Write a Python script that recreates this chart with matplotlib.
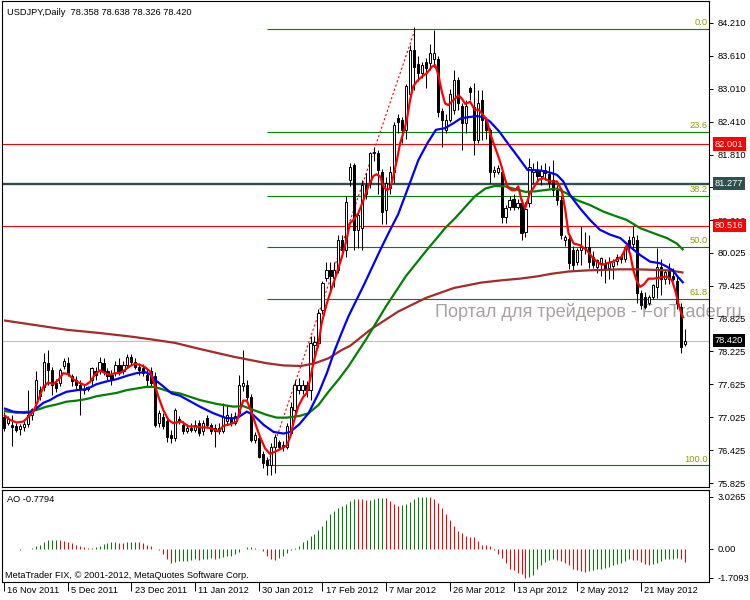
import matplotlib
matplotlib.use("Agg")
import matplotlib.pyplot as plt
import matplotlib.transforms as mtransforms

plt.rcParams['font.family'] = ['Liberation Sans', 'DejaVu Sans']

# ---- daily bars, index 0 = 16 Nov 2011
opens = [77.04, 76.93, 76.89, 76.87, 76.82, 76.85, 76.90, 77.07, 77.28, 77.52,
         77.58, 78.01, 77.89, 77.65, 77.65, 77.96, 78.02, 77.77, 77.71, 77.62,
         77.55, 77.55, 77.71, 77.86, 77.89, 78.01, 77.86, 77.80, 77.83, 77.98,
         77.86, 77.98, 78.13, 78.04, 77.95, 77.92, 77.80, 77.86, 77.77, 76.92,
         77.04, 76.95, 76.70, 76.64, 77.00, 76.89, 76.77, 76.83, 76.80, 76.92,
         76.77, 77.01, 76.89, 76.77, 76.84, 76.78, 76.95, 77.00, 76.92, 77.10,
         77.60, 77.62, 77.40, 76.61, 76.64, 76.36, 76.25, 76.16, 76.49, 76.58,
         76.52, 76.49, 76.74, 77.16, 77.52, 77.52, 77.62, 77.52, 78.34, 78.37,
         78.98, 79.56, 79.71, 79.56, 79.71, 80.26, 80.07, 81.35, 81.62, 80.44,
         80.47, 81.26, 81.30, 81.83, 81.83, 81.50, 80.80, 81.20, 81.50, 82.47,
         82.44, 82.26, 82.92, 83.71, 83.45, 83.30, 83.50, 83.47, 83.55, 83.55,
         82.60, 82.26, 82.44, 82.62, 83.17, 82.70, 82.38, 83.02, 82.68, 82.08,
         82.80, 82.44, 82.26, 81.50, 81.50, 81.50, 80.68, 80.86, 81.00, 80.86,
         80.92, 80.40, 80.93, 81.50, 81.53, 81.41, 81.53, 81.45, 81.35, 81.17,
         80.98, 80.25, 80.28, 80.07, 79.85, 80.07, 80.10, 80.13, 79.95, 79.77,
         79.83, 79.83, 79.75, 79.78, 79.87, 79.95, 79.90, 80.25, 80.19, 80.25,
         79.28, 79.22, 79.10, 79.22, 79.40, 79.77, 79.55, 79.70, 79.60, 79.50,
         79.04, 78.358]
highs = [77.13, 77.05, 77.07, 76.92, 76.90, 76.95, 77.52, 77.20, 77.86, 77.60,
         78.19, 78.25, 77.95, 77.72, 77.92, 78.10, 78.12, 77.82, 77.78, 77.70,
         77.62, 77.60, 77.95, 77.95, 78.13, 78.10, 77.92, 77.88, 78.05, 78.10,
         78.05, 78.18, 78.18, 78.10, 78.02, 78.00, 77.90, 77.95, 77.85, 77.15,
         77.10, 77.00, 76.80, 77.20, 77.05, 76.95, 76.90, 76.92, 76.97, 76.98,
         76.98, 77.06, 76.92, 76.90, 76.92, 77.28, 77.25, 77.10, 77.12, 77.80,
         78.25, 77.70, 77.45, 76.75, 76.70, 76.42, 76.30, 76.55, 76.72, 76.62,
         76.60, 76.92, 77.30, 77.70, 77.75, 77.70, 77.68, 78.50, 78.50, 79.00,
         79.50, 79.85, 79.85, 79.85, 80.35, 80.35, 81.05, 81.65, 81.66, 80.80,
         81.35, 81.47, 81.86, 81.95, 81.89, 81.55, 81.40, 81.60, 82.40, 82.55,
         82.50, 83.10, 83.80, 84.14, 83.60, 83.50, 83.56, 83.83, 84.08, 83.60,
         82.65, 82.55, 83.00, 83.35, 83.22, 82.75, 82.80, 83.05, 83.11, 82.99,
         82.99, 82.50, 82.30, 81.60, 81.62, 81.56, 80.90, 81.05, 81.10, 81.00,
         81.00, 80.95, 81.74, 81.65, 81.70, 81.62, 81.65, 81.60, 81.71, 81.25,
         81.05, 80.35, 80.35, 80.15, 80.10, 80.50, 80.40, 80.35, 80.05, 79.90,
         79.95, 79.90, 79.95, 79.90, 80.00, 80.00, 80.15, 80.32, 80.50, 80.35,
         79.35, 79.30, 79.25, 79.45, 80.10, 79.90, 79.70, 79.83, 79.75, 79.60,
         79.10, 78.638]
lows = [76.77, 76.88, 76.50, 76.76, 76.70, 76.78, 76.85, 76.98, 77.20, 77.35,
        77.50, 77.62, 77.43, 77.48, 77.60, 77.90, 77.78, 77.60, 77.55, 77.07,
        77.45, 77.50, 77.62, 77.70, 77.82, 77.80, 77.70, 77.62, 77.78, 77.80,
        77.82, 77.92, 77.98, 77.90, 77.80, 77.78, 77.58, 77.60, 76.85, 76.85,
        76.82, 76.58, 76.55, 76.60, 76.90, 76.72, 76.74, 76.76, 76.75, 76.68,
        76.70, 76.84, 76.72, 76.49, 76.72, 76.74, 76.90, 76.86, 76.88, 77.05,
        77.50, 77.35, 76.58, 76.55, 76.28, 76.10, 75.98, 75.97, 76.02, 76.45,
        76.42, 76.45, 76.70, 77.10, 77.45, 77.45, 77.40, 77.34, 78.10, 78.30,
        78.90, 79.50, 79.35, 79.40, 79.65, 79.95, 79.95, 81.23, 80.07, 80.10,
        80.07, 81.00, 81.20, 81.70, 81.10, 80.55, 80.55, 81.10, 81.30, 82.20,
        82.02, 82.10, 82.85, 82.99, 83.15, 83.20, 83.02, 83.35, 83.40, 82.50,
        81.95, 82.20, 82.40, 82.55, 82.62, 81.89, 82.20, 82.80, 81.80, 82.02,
        82.08, 82.10, 81.29, 81.40, 81.45, 80.56, 80.56, 80.80, 80.80, 80.82,
        80.25, 80.30, 80.85, 81.30, 81.35, 81.25, 81.35, 81.20, 81.05, 80.90,
        80.28, 80.15, 79.72, 79.70, 79.80, 79.80, 80.00, 79.75, 79.75, 79.65,
        79.60, 79.47, 79.55, 79.55, 79.80, 79.83, 79.85, 80.05, 80.10, 79.10,
        79.00, 79.00, 79.07, 79.18, 79.20, 79.25, 79.45, 79.45, 79.50, 79.00,
        78.19, 78.326]
closes = [76.83, 77.00, 76.85, 76.80, 76.86, 76.90, 77.07, 77.18, 77.70, 77.42,
          78.04, 77.89, 77.62, 77.56, 77.89, 78.06, 77.83, 77.68, 77.62, 77.55,
          77.52, 77.58, 77.92, 77.80, 78.04, 77.86, 77.77, 77.71, 77.98, 77.86,
          77.98, 78.13, 78.04, 77.95, 77.89, 77.83, 77.70, 77.65, 76.89, 77.10,
          76.86, 76.67, 76.64, 77.16, 76.95, 76.77, 76.83, 76.80, 76.89, 76.74,
          76.92, 76.89, 76.77, 76.84, 76.78, 77.04, 77.07, 76.92, 77.05, 77.62,
          77.65, 77.40, 76.61, 76.70, 76.31, 76.19, 76.16, 76.49, 76.67, 76.49,
          76.49, 76.86, 77.22, 77.62, 77.62, 77.62, 77.52, 78.37, 78.40, 78.92,
          79.47, 79.71, 79.59, 79.71, 80.26, 80.07, 80.95, 81.59, 80.44, 80.70,
          81.26, 81.10, 81.83, 81.86, 81.53, 80.77, 81.30, 81.50, 82.35, 82.41,
          82.26, 83.05, 83.71, 83.41, 83.30, 83.44, 83.38, 83.65, 83.65, 82.59,
          82.44, 82.44, 82.92, 83.17, 82.74, 82.38, 82.70, 82.95, 82.08, 82.74,
          82.44, 82.26, 81.50, 81.53, 81.56, 80.68, 80.83, 80.98, 80.86, 80.92,
          80.38, 80.82, 81.58, 81.53, 81.41, 81.53, 81.47, 81.30, 81.17, 80.98,
          80.35, 80.30, 79.83, 79.80, 80.07, 80.13, 80.13, 79.85, 79.80, 79.89,
          79.92, 79.72, 79.85, 79.87, 79.95, 79.90, 80.13, 80.13, 80.30, 79.28,
          79.07, 79.04, 79.22, 79.43, 79.77, 79.55, 79.67, 79.55, 79.55, 79.10,
          78.31, 78.420]

# ---- moving averages as drawn by the terminal (bar index, price)
red_ma = [(0, 77.07), (1.5, 76.98), (3.2, 76.93), (4.9, 76.95), (6.1, 77.03), (7.4, 77.13),
          (8.6, 77.34), (9.9, 77.58), (11.1, 77.66), (12.4, 77.63), (13.7, 77.71), (14.9, 77.83),
          (16.2, 77.81), (17.4, 77.72), (18.7, 77.66), (20.4, 77.61), (21.6, 77.67), (22.9, 77.81),
          (24.1, 77.88), (25.4, 77.83), (26.6, 77.80), (27.9, 77.83), (29.1, 77.83), (30.4, 77.89),
          (31.7, 77.96), (32.9, 78.00), (34.2, 77.98), (35.4, 77.94), (36.7, 77.86), (37.7, 77.65),
          (38.8, 77.40), (40, 77.16), (41.3, 76.98), (42.5, 76.92), (44.6, 76.95), (46.3, 76.86),
          (48, 76.86), (49.7, 76.84), (51.3, 76.84), (52.6, 76.81), (53.9, 76.77), (55.1, 76.87),
          (56.8, 76.90), (58.5, 76.95), (59.3, 77.16), (60.1, 77.33), (61, 77.33), (61.8, 77.19),
          (63.1, 76.92), (64.3, 76.67), (65.6, 76.46), (66.8, 76.36), (68.1, 76.40), (69.8, 76.46),
          (71.1, 76.52), (71.9, 76.67), (72.7, 76.92), (73.9, 77.22), (75.2, 77.40), (76, 77.46),
          (76.9, 77.71), (77.7, 78.01), (79, 78.37), (79.8, 78.74), (81.1, 79.10), (82.3, 79.37),
          (83.6, 79.65), (84.9, 79.95), (86.1, 80.27), (86.9, 80.56), (87.8, 80.62), (89, 80.74),
          (90.3, 80.98), (91.5, 81.23), (92.8, 81.42), (93.6, 81.45), (94.5, 81.41), (95.3, 81.23),
          (96.2, 81.16), (97, 81.20), (97.8, 81.41), (98.7, 81.71), (99.5, 82.01), (100.3, 82.20),
          (101.2, 82.44), (102, 82.80), (102.8, 83.05), (103.7, 83.14), (105, 83.23), (106.2, 83.29),
          (107.5, 83.41), (108.3, 83.44), (109.1, 83.26), (110, 82.95), (110.8, 82.74), (111.6, 82.71),
          (112.9, 82.80), (114.2, 82.89), (115, 82.83), (115.9, 82.73), (117.1, 82.77), (118.3, 82.62),
          (119.2, 82.63), (120, 82.56), (121.3, 82.44), (122.1, 82.20), (123, 82.01), (124.2, 81.77),
          (125, 81.59), (125.9, 81.35), (126.7, 81.20), (127.6, 81.16), (128.4, 81.16), (129.2, 81.23),
          (130, 80.98), (130.9, 80.83), (132.1, 81.10), (134.3, 81.35), (135.5, 81.38), (137.2, 81.32),
          (138.9, 81.32), (140.1, 81.16), (141, 80.80), (141.8, 80.38), (143.1, 80.19), (144.7, 80.16),
          (146.4, 80.07), (147.7, 79.95), (148.9, 79.86), (150.2, 79.80), (151.4, 79.83), (153.1, 79.86),
          (154.4, 79.92), (155.2, 79.95), (156.4, 80.15), (157.3, 80.00), (158.1, 79.70), (159, 79.50),
          (159.8, 79.40), (160.8, 79.45), (161.9, 79.55), (163.2, 79.55), (164.8, 79.57), (166.5, 79.59),
          (167.8, 79.52), (168.6, 79.34), (169.4, 79.10), (170, 78.95), (170.7, 78.83)]
blue_ma = [(0, 77.19), (2.3, 77.13), (4.9, 77.11), (6.5, 77.11), (8.2, 77.19), (9.9, 77.29),
           (11.6, 77.34), (13.2, 77.41), (15.7, 77.49), (18.3, 77.52), (20.8, 77.54), (23.3, 77.63),
           (25.8, 77.68), (28.3, 77.72), (30.8, 77.78), (33.3, 77.83), (35.4, 77.85), (36.7, 77.81),
           (37.9, 77.71), (40, 77.59), (42.1, 77.46), (44.2, 77.42), (49.2, 77.22), (52.6, 77.10),
           (55.9, 77.01), (58.5, 77.01), (61, 77.13), (62.6, 77.07), (65.2, 76.89), (67.7, 76.76),
           (70.2, 76.73), (71.9, 76.76), (74.2, 76.90), (76.5, 77.10), (79, 77.46), (81.1, 77.83),
           (83.1, 78.25), (84.8, 78.56), (86.5, 78.86), (90.5, 79.45), (94.5, 80.07), (96.6, 80.38),
           (99, 80.72), (101.8, 81.26), (104.1, 81.71), (106.4, 82.02), (108.5, 82.26), (110.8, 82.29),
           (112.9, 82.38), (114.8, 82.47), (116.7, 82.49), (118.8, 82.51), (120.4, 82.49), (122.1, 82.41),
           (124.4, 82.23), (126.9, 81.98), (129.2, 81.76), (131.5, 81.53), (134.7, 81.52), (137.2, 81.48),
           (138.9, 81.44), (140.5, 81.32), (142.2, 81.07), (144.7, 80.83), (147.2, 80.62), (149.7, 80.44),
           (152.3, 80.35), (154.8, 80.29), (157.3, 80.13), (159.8, 79.98), (162.3, 79.86), (164.8, 79.83),
           (166.5, 79.77), (168, 79.70), (169.3, 79.58), (170.7, 79.47)]
green_ma = [(0, 77.14), (3.2, 77.11), (6.5, 77.13), (8.2, 77.16), (10.7, 77.22), (13.2, 77.26),
            (15.7, 77.31), (18.3, 77.33), (20.8, 77.36), (23.3, 77.41), (25.8, 77.44), (28.3, 77.47),
            (30.8, 77.52), (33.3, 77.55), (35.8, 77.58), (37.5, 77.58), (39.2, 77.55), (41.7, 77.49),
            (44.2, 77.46), (49.2, 77.34), (53.4, 77.27), (57.6, 77.22), (60.1, 77.23), (62.6, 77.16),
            (66, 77.07), (68.5, 77.02), (71, 77.02), (74.2, 77.05), (76.5, 77.10), (79, 77.25),
            (81.5, 77.49), (84, 77.71), (86.5, 77.95), (91, 78.45), (96, 79.05), (101, 79.60),
            (106.2, 80.07), (108.3, 80.25), (110.8, 80.47), (113.3, 80.65), (115.8, 80.85), (118.3, 81.05),
            (120.9, 81.19), (123.4, 81.24), (125.9, 81.23), (128.4, 81.18), (131, 81.13), (133.5, 81.14),
            (135.5, 81.16), (138.9, 81.19), (141.4, 81.10), (143.9, 80.98), (147.2, 80.89), (150.6, 80.77),
            (154, 80.68), (156.4, 80.62), (159.8, 80.47), (163.1, 80.38), (166.5, 80.29), (169, 80.19),
            (170.7, 80.07)]
brown_ma = [(0, 78.79), (7.4, 78.71), (15.7, 78.62), (24.1, 78.56), (32.5, 78.49), (38.4, 78.43),
            (43, 78.38), (49.2, 78.27), (53.4, 78.20), (57.6, 78.13), (61.8, 78.07), (66, 78.01),
            (70.2, 77.97), (74.6, 77.96), (78.1, 78.01), (81.5, 78.10), (84.8, 78.25), (87, 78.33),
            (92, 78.62), (99, 78.95), (106, 79.20), (113, 79.38), (120, 79.48), (125, 79.52),
            (129.6, 79.55), (133.8, 79.59), (137.6, 79.64), (141.8, 79.68), (146.4, 79.70), (150.6, 79.71),
            (154.8, 79.72), (159, 79.72), (163.2, 79.71), (167.3, 79.70), (170.7, 79.66)]

# ---- Awesome Oscillator
ao = [-0.01, -0.015, -0.02, -0.03, -0.08, -0.05, -0.02,
      0.02, 0.14, 0.23, 0.37, 0.48, 0.52, 0.53, 0.51, 0.45, 0.37, 0.33, 0.23, 0.14, 0.08, 0.04,
      0.06, 0.10, 0.18, 0.25, 0.30, 0.36, 0.38, 0.35, 0.33, 0.36, 0.39, 0.40, 0.37, 0.33, 0.23, 0.17, 0.0,
      -0.10, -0.29, -0.60, -0.83, -0.79, -0.75, -0.74, -0.70, -0.68, -0.64, -0.68, -0.64, -0.60, -0.56,
      -0.60, -0.54, -0.48, -0.45, -0.41, -0.29, -0.21,
      -0.02, 0.08, 0.12, 0.04, -0.01, -0.16, -0.45, -0.64, -0.66, -0.54, -0.41, -0.25, -0.10, 0.02,
      0.17, 0.37, 0.52, 0.72, 0.87, 1.07, 1.34, 1.69, 2.03, 2.23, 2.36, 2.50, 2.62, 2.81, 2.91, 2.90,
      2.89, 2.85, 2.87, 2.93, 2.97, 2.99,
      2.95, 2.81, 2.62, 2.50,
      2.53, 2.62, 2.75, 2.89, 3.00, 3.02, 3.0265,
      3.02, 2.89, 2.69, 2.36, 2.03, 1.65, 1.34, 1.01, 0.91, 0.76, 0.68, 0.66, 0.43, 0.23, 0.21, 0.14,
      -0.06, -0.29, -0.54, -0.83, -1.18, -1.26, -1.41, -1.51, -1.7093,
      -1.66, -1.57, -1.22, -0.99, -0.79, -0.68, -0.64,
      -0.68, -0.74, -0.83, -0.99, -1.18, -1.26, -1.30, -1.36,
      -1.30, -1.26, -1.22, -1.21, -1.16, -1.07, -0.99, -0.93, -0.83, -0.74, -0.64,
      -0.68, -0.69, -0.79, -0.93, -0.99,
      -0.93, -0.83, -0.74, -0.64, -0.60, -0.59, -0.55,
      -0.64, -0.7794]

# ---- objects and labels
fib_high, fib_low, fib_start = 84.10, 76.15, 66.1
fib_end_bar = 103.3
fib_levels = [0.0, 23.6, 38.2, 50.0, 61.8, 100.0]
red_levels = [82.001, 80.516]
slate_level = 81.277
last_price = 78.420
price_ticks = [84.210, 83.610, 83.010, 82.410, 81.810, 81.210, 80.610, 80.025,
               79.425, 78.825, 78.225, 77.625, 77.025, 76.425, 75.825]
hidden_ticks = [81.210]  # sits under the 81.277 tag
ao_ticks = [3.0265, 0.0, -1.7093]
ao_tick_labels = ['3.0265', '0.00', '-1.7093']
date_labels = ['16 Nov 2011', '5 Dec 2011', '23 Dec 2011', '11 Jan 2012', '30 Jan 2012',
               '17 Feb 2012', '7 Mar 2012', '26 Mar 2012', '13 Apr 2012', '2 May 2012',
               '21 May 2012']
date_bars = [0, 16, 32, 48, 64, 80, 96, 112, 128, 144, 160]

W, H = 750, 600
FS = 6.7


def box(x0, y0, x1, y1):
    # pixel box -> figure fraction
    return [x0 / W, 1 - y1 / H, (x1 - x0) / W, (y1 - y0) / H]


fig = plt.figure(figsize=(7.5, 6), dpi=100)
ax = fig.add_axes(box(2, 1, 709, 487))
ao_ax = fig.add_axes(box(2, 490, 709, 581.5))

for a in (ax, ao_ax):
    a.set_xlim(-0.5, 177.1)
    for s in a.spines.values():
        s.set_linewidth(0.8)
    a.yaxis.tick_right()
    a.tick_params(axis='y', direction='out', length=3, width=0.7, pad=3, labelsize=FS)

ax.set_ylim(75.757, 84.605)
ax.set_xticks([])
ax.set_yticks(price_ticks)
ax.set_yticklabels(['' if p in hidden_ticks else '%.3f' % p for p in price_ticks])

# candles
n = len(closes)
xs = list(range(n))
hi = [max(h, o, c) for h, o, c in zip(highs, opens, closes)]
lo = [min(l, o, c) for l, o, c in zip(lows, opens, closes)]
ax.vlines(xs, lo, hi, color='black', linewidth=0.75, zorder=3)
bottoms = [min(o, c) for o, c in zip(opens, closes)]
heights = [max(abs(c - o), 0.006) for o, c in zip(opens, closes)]
faces = ['white' if c >= o else 'black' for o, c in zip(opens, closes)]
ax.bar(xs, heights, bottom=bottoms, width=0.55, color=faces, edgecolor='black',
       linewidth=0.7, zorder=4)

# horizontal objects
ax.axhline(last_price, color='#c0c0c0', linewidth=0.8, zorder=1)
for lv in red_levels:
    ax.axhline(lv, color='#ff0000', linewidth=0.8, zorder=1)
ax.axhline(slate_level, color='#2f4f4f', linewidth=1.7, zorder=1)

# fibonacci
blend = mtransforms.blended_transform_factory(ax.transAxes, ax.transData)
for lev in fib_levels:
    p = fib_high - (fib_high - fib_low) * lev / 100.0
    ax.hlines(p, fib_start, 177.1, color='#008000', linewidth=0.8, zorder=1)
    ax.text(0.9985, p + 0.03, '%.1f' % lev, transform=blend, ha='right', va='bottom',
            fontsize=FS, color='#9a9a00', zorder=5)
ax.plot([fib_start, fib_end_bar], [fib_low, fib_high], color='#ff0000', linewidth=0.8,
        linestyle=(0, (2, 2)), zorder=2)

# moving averages
for ma, col in ((brown_ma, '#a52a2a'), (green_ma, '#008000'), (blue_ma, '#0000ff'),
                (red_ma, '#ff0000')):
    ax.plot([p[0] for p in ma], [p[1] for p in ma], color=col, linewidth=1.6,
            solid_capstyle='butt', zorder=5)

# price tags on the axis
for val, col in ((82.001, '#ff0000'), (slate_level, '#2f4f4f'), (80.516, '#ff0000'),
                 (last_price, '#000000')):
    ax.text(1.0085, val, '%.3f' % val, transform=blend, ha='left', va='center',
            fontsize=FS, color='white', zorder=6, clip_on=False,
            bbox=dict(boxstyle='square,pad=0.22', fc=col, ec='none'))

ax.text(0.007, 0.977, 'USDJPY,Daily  78.358 78.638 78.326 78.420', transform=ax.transAxes,
        ha='left', va='center', fontsize=FS, color='black')
ax.text(0.6125, 0.36, 'Портал для трейдеров - ForTrader.ru', transform=ax.transAxes,
        ha='left', va='center', fontsize=13.1, color='#a8a2a2', zorder=0.5, clip_on=False)

# AO panel
ao_ax.set_ylim(-1.932, 3.437)
ao_cols = ['#ff0000'] + ['#008000' if ao[k] > ao[k - 1] else '#ff0000' for k in range(1, len(ao))]
ao_ax.vlines(range(len(ao)), 0, ao, colors=ao_cols, linewidth=0.75)
ao_ax.set_yticks(ao_ticks)
ao_ax.set_yticklabels(ao_tick_labels)
ao_ax.set_xticks(date_bars)
ao_ax.tick_params(axis='x', direction='out', length=6.5, width=0.7, labelbottom=False)
dblend = mtransforms.blended_transform_factory(ao_ax.transData, ao_ax.transAxes)
for b, lab in zip(date_bars, date_labels):
    ao_ax.text(b + 0.8, -0.095, lab, transform=dblend, ha='left', va='center',
               fontsize=FS, clip_on=False)
ao_ax.text(0.007, 0.90, 'AO -0.7794', transform=ao_ax.transAxes, ha='left', va='center',
           fontsize=FS)
ao_ax.text(0.004, 0.07, 'MetaTrader FIX, © 2001-2012, MetaQuotes Software Corp.',
           transform=ao_ax.transAxes, ha='left', va='center', fontsize=FS)

fig.savefig('out.png', dpi=100, facecolor='white')
